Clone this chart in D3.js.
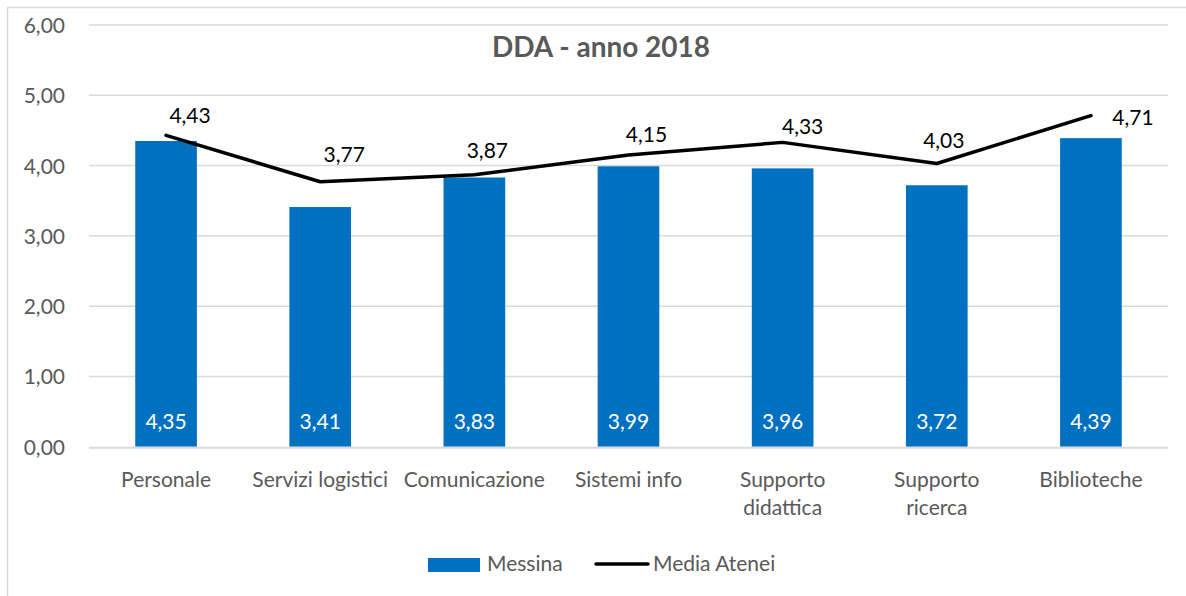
<!DOCTYPE html>
<html><head><meta charset="utf-8">
<script src="https://cdn.jsdelivr.net/npm/d3@7"></script>
<style>
html,body{margin:0;padding:0;background:#fff;overflow:hidden}
svg{display:block;font-family:Lato,"Open Sans",sans-serif}
</style></head>
<body>
<svg id="c" width="1186" height="596"></svg>
<script>
const categories = ["Personale","Servizi logistici","Comunicazione","Sistemi info","Supporto didattica","Supporto ricerca","Biblioteche"];
const categoryLines = [["Personale"],["Servizi logistici"],["Comunicazione"],["Sistemi info"],["Supporto","didattica"],["Supporto","ricerca"],["Biblioteche"]];
const messina = [4.35,3.41,3.83,3.99,3.96,3.72,4.39];
const mediaAtenei = [4.43,3.77,3.87,4.15,4.33,4.03,4.71];
const yTicks = [0,1,2,3,4,5,6];
const title = "DDA - anno 2018";
const seriesNames = ["Messina","Media Atenei"];

// layout: manual nudges of line labels (as in the original)
const lineLabelDx = [24,24,13,18,20,7,42];
const lineLabelDy = [-12,-20,-17,-13,-8,-15,9];

const FS = 21;
const svg = d3.select("#c");
const fmt = v => d3.format(".2f")(v).replace(".", ",");

svg.append("rect").attr("x",7.5).attr("y",7.5).attr("width",1200).attr("height",620)
  .attr("fill","#fff").attr("stroke","#d9d9d9").attr("stroke-width",1.5);

const pL = 89, pR = 1168, pT = 25, pB = 446.7;
const x = d3.scaleBand().domain(categories).range([pL,pR]).paddingInner(0.6).paddingOuter(0.3);
const y = d3.scaleLinear().domain([0,6]).range([pB,pT]);

// gridlines
svg.append("g").selectAll("line").data(yTicks.filter(t=>t>0)).join("line")
  .attr("x1",pL).attr("x2",pR).attr("y1",d=>y(d)).attr("y2",d=>y(d))
  .attr("stroke","#d9d9d9").attr("stroke-width",1.5);

// y axis labels
const yAxis = d3.axisLeft(y).tickValues(yTicks).tickFormat(fmt).tickSize(0).tickPadding(0);
const ya = svg.append("g").attr("transform",`translate(65,0)`).call(yAxis);
ya.select(".domain").remove();
ya.selectAll("text").attr("font-family","Lato,sans-serif").attr("font-size",FS).attr("fill","#595959").attr("dy","0.36em");

// bars
svg.append("g").selectAll("rect").data(messina).join("rect")
  .attr("x",(d,i)=>x(categories[i])).attr("width",x.bandwidth())
  .attr("y",d=>y(d)).attr("height",d=>y(0)-y(d)).attr("fill","#0070c0");

// x axis baseline
svg.append("line").attr("x1",pL).attr("x2",pR).attr("y1",y(0)+1).attr("y2",y(0)+1)
  .attr("stroke","#d9d9d9").attr("stroke-width",2);

// bar labels
svg.append("g").selectAll("text").data(messina).join("text")
  .attr("x",(d,i)=>x(categories[i])+x.bandwidth()/2).attr("y",429)
  .attr("text-anchor","middle").attr("font-size",FS).attr("fill","#fff").text(fmt);

// line
const cx = i => x(categories[i])+x.bandwidth()/2;
svg.append("path").datum(mediaAtenei)
  .attr("d", d3.line().x((d,i)=>cx(i)).y(d=>y(d)))
  .attr("fill","none").attr("stroke","#000").attr("stroke-width",3.5)
  .attr("stroke-linejoin","round").attr("stroke-linecap","round");

svg.append("g").selectAll("text").data(mediaAtenei).join("text")
  .attr("x",(d,i)=>cx(i)+lineLabelDx[i]).attr("y",(d,i)=>y(d)+lineLabelDy[i])
  .attr("text-anchor","middle").attr("font-size",FS).attr("fill","#000").text(fmt);

// category labels
const xl = svg.append("g").selectAll("text").data(categoryLines).join("text")
  .attr("x",(d,i)=>cx(i)).attr("y",487).attr("text-anchor","middle")
  .attr("font-size",FS).attr("fill","#595959");
xl.selectAll("tspan").data(d=>d).join("tspan")
  .attr("x",function(){return this.parentNode.getAttribute("x");})
  .attr("dy",(d,j)=>j===0?0:28).text(d=>d);

// title
svg.append("text").attr("x",601).attr("y",57).attr("text-anchor","middle")
  .attr("font-size",28).attr("font-weight","bold").attr("fill","#595959").text(title);

// legend
const lg = svg.append("g");
lg.append("rect").attr("x",428).attr("y",558).attr("width",52).attr("height",14).attr("fill","#0070c0");
lg.append("text").attr("x",487).attr("y",571).attr("font-size",FS).attr("fill","#595959").text(seriesNames[0]);
lg.append("line").attr("x1",596).attr("x2",648).attr("y1",564).attr("y2",564)
  .attr("stroke","#000").attr("stroke-width",3.5).attr("stroke-linecap","round");
lg.append("text").attr("x",653).attr("y",571).attr("font-size",FS).attr("fill","#595959").text(seriesNames[1]);
</script>
</body></html>
